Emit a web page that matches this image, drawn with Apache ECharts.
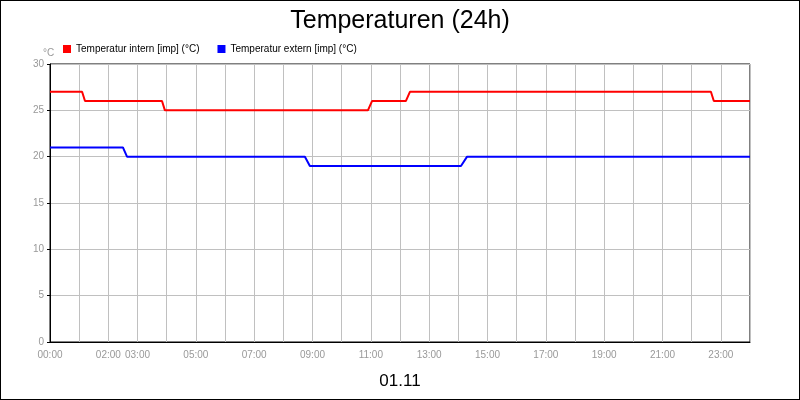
<!DOCTYPE html>
<html><head><meta charset="utf-8">
<script src="https://cdn.jsdelivr.net/npm/echarts@6/dist/echarts.min.js"></script>
<style>html,body{margin:0;padding:0;background:#fff}#c{width:798px;height:398px;border:1px solid #000}</style>
</head><body><div id="c"></div>
<script>
const tickLabels = ['00:00','02:00','03:00','05:00','07:00','09:00','11:00','13:00','15:00','17:00','19:00','21:00','23:00'];
const internHours = [0,1.1,1.2,3.84,3.94,10.9,11.04,12.2,12.34,22.66,22.76,24];
const internVals  = [27,27,26,26,25,25,26,26,27,27,26,26];
const externHours = [0,2.5,2.64,8.74,8.91,14.09,14.3,24];
const externVals  = [21,21,20,20,19,19,20,20];
const F = 'Liberation Sans, Arial, sans-serif';
const chart = echarts.init(document.getElementById('c'));
chart.setOption({
  animation:false,
  textStyle:{fontFamily:F},
  title:[{text:'Temperaturen (24h)',left:'center',top:3,textStyle:{fontSize:25,fontWeight:'normal',color:'#000',fontFamily:F}},
         {text:'01.11',left:'center',top:367,textStyle:{fontSize:17,fontWeight:'normal',color:'#000',fontFamily:F}},
         {text:'°C',left:37,top:42,textStyle:{fontSize:10,fontWeight:'normal',color:'#999',fontFamily:F}}],
  legend:{left:57,top:38,itemWidth:8,itemHeight:8,itemGap:18,icon:'rect',textStyle:{fontSize:10,color:'#000'},
    data:['Temperatur intern [imp] (°C)','Temperatur extern [imp] (°C)']},
  grid:{left:49,right:49,top:63,bottom:57,show:true,borderColor:'#000',borderWidth:1},
  xAxis:{type:'value',min:0,max:24,interval:1,
    axisLine:{lineStyle:{color:'#000'}},axisTick:{show:false},
    splitLine:{lineStyle:{color:'#c0c0c0'}},
    axisLabel:{fontSize:10,color:'#999',showMaxLabel:false,
      formatter:v=>{const s=String(v).padStart(2,'0')+':00';return tickLabels.includes(s)?s:'';}}},
  yAxis:{type:'value',min:0,max:30,interval:5,
    axisLine:{show:true,lineStyle:{color:'#000'}},axisTick:{show:true,length:3,lineStyle:{color:'#000'}},
    splitLine:{lineStyle:{color:'#c0c0c0'}},axisLabel:{fontSize:10,color:'#999',margin:6}},
  series:[
    {name:'Temperatur intern [imp] (°C)',type:'line',showSymbol:false,color:'#ff0000',lineStyle:{width:2},
     data:internHours.map((h,i)=>[h,internVals[i]])},
    {name:'Temperatur extern [imp] (°C)',type:'line',showSymbol:false,color:'#0000ff',lineStyle:{width:2},
     data:externHours.map((h,i)=>[h,externVals[i]])}
  ]
});
</script></body></html>
